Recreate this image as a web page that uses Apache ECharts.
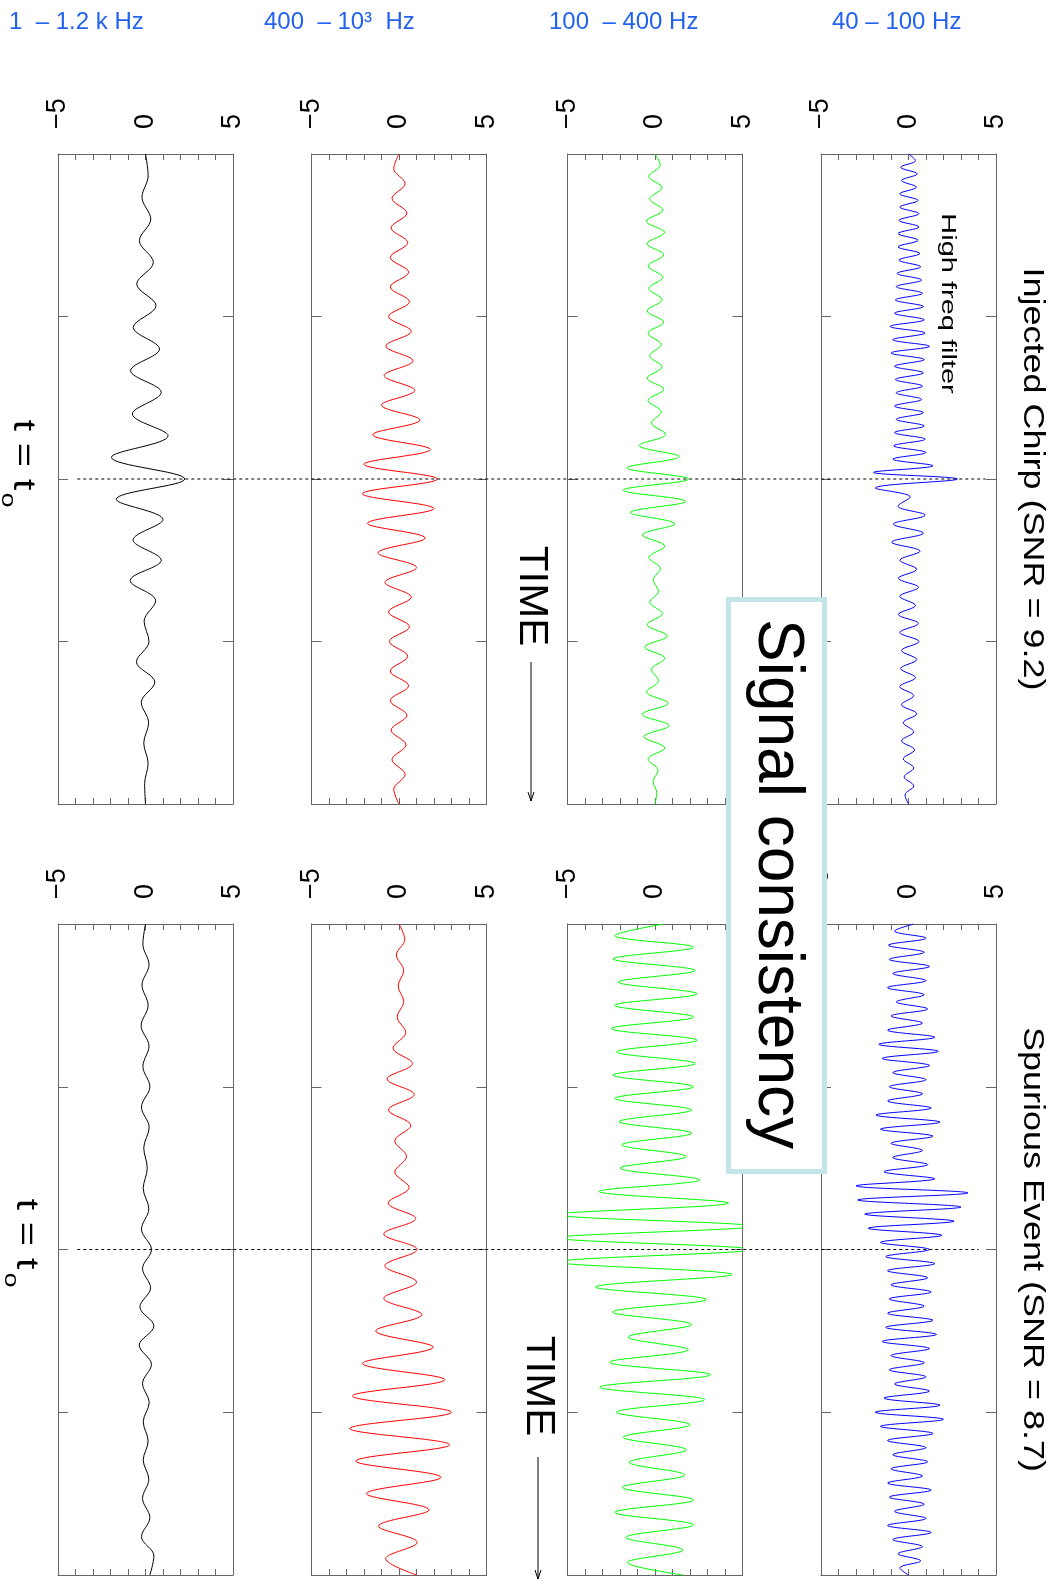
<!DOCTYPE html>
<html>
<head>
<meta charset="utf-8">
<script src="https://cdn.jsdelivr.net/npm/echarts@6/dist/echarts.min.js"></script>
<style>
html,body{margin:0;padding:0;background:#fff;}
#chart{width:1051px;height:1585px;}
</style>
</head>
<body>
<div id="chart"></div>
<script>
// ---------- labels ----------
const bandLabels = ['1  \u2013 1.2 k Hz', '400  \u2013 10\u00b3  Hz', '100  \u2013 400 Hz', '40 \u2013 100 Hz'];
const eventTitles = ['Injected Chirp (SNR = 9.2)', 'Spurious Event (SNR = 8.7)'];
const ampTicks = [-5, 0, 5];
const timeRange = [0, 4];
const t0 = 2;

// ---------- waveform extremes, before and after t0 ----------
// Injected chirp
const chirpBlackPre  = [0, 0.15, -0.2, 0.3, -0.35, 0.45, -0.5, 0.6, -0.7, 0.8, -0.85, 0.9, -0.75, 1.29, -1.95, 2.24];
const chirpBlackPost = [-1.67, 1.0, -0.71, 0.9, -0.87, 0.58, -0.08, 0.2, -0.52, 0.53, -0.24, 0.18, -0.1, 0.15, -0.05, 0.0];
const chirpRedPre    = [0, -0.3, 0.35, -0.4, 0.45, -0.45, 0.5, -0.5, 0.55, -0.5, 0.6, -0.6, 0.7, -0.75, 0.8, -0.85, 0.9, -1.0, 1.2, -1.5, 1.8, -2.0, 2.2];
const chirpRedPost   = [-2.1, 2.0, -1.8, 1.5, -1.2, 1.0, -0.8, 0.7, -0.6, 0.6, -0.55, 0.5, -0.5, 0.55, -0.5, 0.45, -0.45, 0.4, -0.4, 0.35, -0.3, 0.0];
const chirpGreenPre  = [0, 0.3, -0.35, 0.4, -0.3, 0.45, -0.5, 0.55, -0.45, 0.5, -0.4, 0.45, -0.35, 0.4, -0.45, 0.5, -0.4, 0.35, -0.3, 0.4, -0.45, 0.5, -0.4, 0.35, -0.2, 0.62, -0.9, 1.38, -1.6, 1.93];
const chirpGreenPost = [-1.82, 1.76, -1.4, 1.13, -0.72, 0.56, -0.35, 0.31, -0.1, 0.2, -0.3, 0.43, -0.45, 0.7, -0.58, 0.56, -0.2, 0.2, -0.49, 0.75, -0.74, 0.8, -0.64, 0.56, -0.4, 0.18, -0.11, 0.1, 0.0];
const chirpBluePre   = [0, 0.4, -0.45, 0.5, -0.4, 0.45, -0.5, 0.55, -0.5, 0.6, -0.55, 0.6, -0.6, 0.55, -0.6, 0.65, -0.55, 0.7, -0.65, 0.75, -0.7, 0.8, -0.75, 0.85, -0.8, 0.9, -1.06, 0.95, -0.9, 1.2, -1.0, 0.9, -0.8, 0.85, -0.75, 0.8, -0.7, 0.75, -0.8, 0.85, -0.7, 0.9, -0.8, 0.95, -0.85, 1.0, -0.9, 1.4, -2.0, 2.8];
const chirpBluePost  = [-1.9, 0.1, -0.6, 0.95, -0.87, 0.85, -0.96, 0.66, -0.49, 0.47, -0.58, 0.57, -0.5, 0.4, -0.58, 0.57, -0.5, 0.6, -0.4, 0.47, -0.45, 0.4, -0.5, 0.3, -0.4, 0.47, -0.3, 0.3, -0.4, 0.35, -0.3, 0.3, -0.25, 0.3, -0.2, 0.0];
// Spurious event
const spurBlackPre   = [0.0, -0.15, 0.2, -0.2, 0.15, -0.25, 0.2, -0.15, 0.25, -0.23, 0.21, -0.1, 0.1, -0.13, 0.19, -0.23, 0.34];
const spurBlackPost  = [-0.17, 0.29, -0.32, 0.48, -0.36, 0.34, -0.17, 0.21, -0.13, 0.15, -0.13, 0.19, -0.17, 0.25, -0.23, 0.48, 0.25];
const spurRedPre     = [0.0, 0.33, -0.15, 0.27, -0.05, 0.27, -0.1, 0.39, -0.34, 0.77, -0.68, 0.87, -0.6, 0.68, -0.24, 0.43, -0.24, 0.58, -0.62, 0.96, -0.87, 1.04];
const spurRedPost    = [-0.81, 1.0, -0.87, 1.3, -1.33, 1.95, -2.09, 2.62, -2.66, 3.0, -2.81, 2.9, -2.47, 2.4, -1.86, 1.72, -1.17, 1.04, -0.76, 1.0];
const spurGreenPre   = [0.5, -2.3, 2.2, -2.4, 2.3, -2.1, 2.4, -2.3, 2.2, -2.5, 2.4, -2.2, 2.3, -2.4, 2.2, -2.3, 2.1, -2.05, 2.1, -1.9, 1.8, -2.0, 2.56, -3.2, 4.2, -5.6, 5.6, -5.6, 5.6];
const spurGreenPost  = [-5.6, 4.4, -3.4, 2.94, -2.43, 2.1, -1.53, 1.9, -2.6, 3.17, -3.15, 2.84, -2.2, 2.0, -1.82, 1.8, -1.48, 1.7, -1.86, 2.2, -2.3, 2.2, -1.67, 1.6, -1.6, 1.6];
const spurBluePre    = [0.3, -0.8, 1.0, -1.15, 0.9, -1.1, 1.2, -0.9, 1.0, -1.2, 0.9, -0.7, 1.1, -1.0, 0.8, -1.2, 1.5, -1.7, 1.7, -1.5, 1.2, -0.9, 1.0, -1.1, 0.8, -1.2, 1.3, -1.86, 1.8, -1.6, 1.4, -1.0, 0.8, -0.9, 1.1, -1.4, 1.5, -3.0, 3.4, -2.9, 3.0, -2.5, 2.6, -2.3, 1.9, -1.6, 1.2];
const spurBluePost   = [-1.3, 1.5, -1.2, 1.1, -1.0, 1.3, -1.1, 0.9, -1.2, 1.4, -1.3, 1.6, -1.5, 1.2, -1.0, 0.9, -1.1, 1.0, -0.8, 1.2, -1.4, 1.8, -1.9, 2.0, -1.6, 1.4, -1.2, 1.0, -0.9, 1.1, -1.0, 0.8, -1.2, 1.3, -1.1, 0.9, -0.8, 1.0, -1.2, 1.3, -0.9, 0.8, -0.6, 0.7, -0.5, 0.0];

// ---------- layout & style ----------
const FONT = "'Liberation Sans', Arial, Helvetica, sans-serif";
const lineColors = ['#000000', '#ff0000', '#00ff00', '#0000ff'];
const colLeft = [58, 311.5, 567.5, 821];
const colW = 175;
const rowTop = [154, 924];
const rowH = [650, 651];
const frameColor = '#666666';

const panels = [
  [chirpBlackPre, chirpBlackPost], [chirpRedPre, chirpRedPost], [chirpGreenPre, chirpGreenPost], [chirpBluePre, chirpBluePost],
  [spurBlackPre, spurBlackPost], [spurRedPre, spurRedPost], [spurGreenPre, spurGreenPost], [spurBluePre, spurBluePost]
];

function wavePoints(pre, post) {
  const pts = [];
  const n1 = pre.length - 1;
  pre.forEach((v, i) => pts.push([v, timeRange[0] + (t0 - timeRange[0]) * i / n1]));
  post.forEach((v, j) => pts.push([v, t0 + (timeRange[1] - t0) * (j + 1) / post.length]));
  return pts;
}

const grid = [], xAxis = [], yAxis = [], series = [];
for (let r = 0; r < 2; r++) {
  for (let c = 0; c < 4; c++) {
    const gi = r * 4 + c;
    grid.push({ left: colLeft[c], top: rowTop[r], width: colW, height: rowH[r], containLabel: false, outerBoundsMode: 'none', show: false });
    const axLine = { show: true, onZero: false, lineStyle: { color: frameColor, width: 1 } };
    const xTick = { show: true, inside: true, length: 6, lineStyle: { color: frameColor, width: 1 } };
    const yTick = { show: true, inside: true, length: 10, lineStyle: { color: frameColor, width: 1 } };
    xAxis.push({
      gridIndex: gi, type: 'value', position: 'top', min: -5, max: 5, interval: 1,
      axisLine: axLine, axisTick: xTick, splitLine: { show: false },
      axisLabel: {
        show: true, rotate: -90, margin: 25, fontSize: 27, color: '#000', fontFamily: FONT,
        formatter: v => ampTicks.indexOf(Math.round(v)) >= 0 && Math.abs(v - Math.round(v)) < 1e-6
          ? (v < 0 ? '\u2212' + Math.abs(Math.round(v)) : String(Math.round(v))) : ''
      }
    });
    xAxis.push({
      gridIndex: gi, type: 'value', position: 'bottom', min: -5, max: 5, interval: 1,
      axisLine: axLine, axisTick: xTick, splitLine: { show: false }, axisLabel: { show: false }
    });
    yAxis.push({
      gridIndex: gi, type: 'value', position: 'left', inverse: true, min: timeRange[0], max: timeRange[1], interval: 1,
      axisLine: axLine, axisTick: yTick, splitLine: { show: false }, axisLabel: { show: false }
    });
    yAxis.push({
      gridIndex: gi, type: 'value', position: 'right', inverse: true, min: timeRange[0], max: timeRange[1], interval: 1,
      axisLine: axLine, axisTick: yTick, splitLine: { show: false }, axisLabel: { show: false }
    });
    series.push({
      type: 'line', xAxisIndex: 2 * gi, yAxisIndex: 2 * gi,
      data: wavePoints(panels[gi][0], panels[gi][1]),
      smooth: 0.35, showSymbol: false, symbol: 'none', clip: true, silent: true,
      lineStyle: { color: lineColors[c], width: 1 }, itemStyle: { color: lineColors[c] }
    });
  }
}

const chart = echarts.init(document.getElementById('chart'), null, { renderer: 'canvas' });
chart.setOption({ animation: false, backgroundColor: '#fff', grid, xAxis, yAxis, series });

// ---------- annotations ----------
function rotText(text, x, y, fontSize, sx, extra) {
  return Object.assign({
    type: 'text', x, y, rotation: -Math.PI / 2, scaleX: sx, scaleY: 1, z: 120,
    style: { text, fontSize, fontFamily: FONT, fill: '#000', align: 'center', verticalAlign: 'middle', textAlign: 'center', textVerticalAlign: 'middle' }
  }, extra || {});
}
const graphics = [];
const bandX = [9, 264, 549, 832];
bandLabels.forEach((t, i) => graphics.push({
  type: 'text', x: bandX[i], y: 22.5, z: 120,
  style: { text: t, fontSize: 24, fontFamily: FONT, fill: '#2362ee', align: 'left', verticalAlign: 'middle', textAlign: 'left', textVerticalAlign: 'middle' }
}));

for (let r = 0; r < 2; r++) {
  const g0 = r * 4, g3 = r * 4 + 3;
  const pA = chart.convertToPixel({ gridIndex: g0 }, [-3.9, t0]);
  const pB = chart.convertToPixel({ gridIndex: g3 }, [r === 0 ? 4.4 : 4.0, t0]);
  graphics.push({ type: 'line', z: 60, shape: { x1: pA[0], y1: pA[1], x2: pB[0], y2: pB[1] }, style: { stroke: '#000', lineWidth: 1, lineDash: [3, 3] } });
  const right = chart.convertToPixel({ gridIndex: g3 }, [5, t0]);
  graphics.push(rotText(eventTitles[r], right[0] + 36.5, right[1], 30, 1.2));
}

// High freq filter
const hf = chart.convertToPixel({ gridIndex: 3 }, [2.26, 0.92]);
graphics.push(rotText('High freq filter', hf[0], hf[1], 21, 1.38));

// TIME arrows
const timeAnn = [{ x: 531, y: 596, a0: 662, a1: 801 }, { x: 538, y: 1386, a0: 1457, a1: 1579 }];
timeAnn.forEach(t => {
  graphics.push(rotText('TIME', t.x, t.y, 40, 1.05));
  graphics.push({ type: 'line', z: 120, shape: { x1: t.x, y1: t.a0, x2: t.x, y2: t.a1 }, style: { stroke: '#000', lineWidth: 1 } });
  graphics.push({ type: 'polyline', z: 120, shape: { points: [[t.x - 3, t.a1 - 9], [t.x, t.a1], [t.x + 3, t.a1 - 9]] }, style: { stroke: '#000', lineWidth: 1, fill: null } });
});

// t = t0
[{ x: 23, y: 455, sy: 500 }, { x: 26, y: 1234, sy: 1280 }].forEach(t => {
  graphics.push(rotText('t = t', t.x, t.y, 31, 1.35));
  graphics.push(rotText('o', t.x - 15, t.sy, 20, 1.35));
});

// Signal consistency box
graphics.push({ type: 'rect', z: 110, shape: { x: 728.5, y: 599.5, width: 96, height: 572 }, style: { fill: '#fff', stroke: '#c4e4e8', lineWidth: 5 } });
graphics.push(rotText('Signal consistency', 776.5, 884, 64, 1.0, { z: 121 }));

chart.setOption({ graphic: { elements: graphics } });
</script>
</body>
</html>
